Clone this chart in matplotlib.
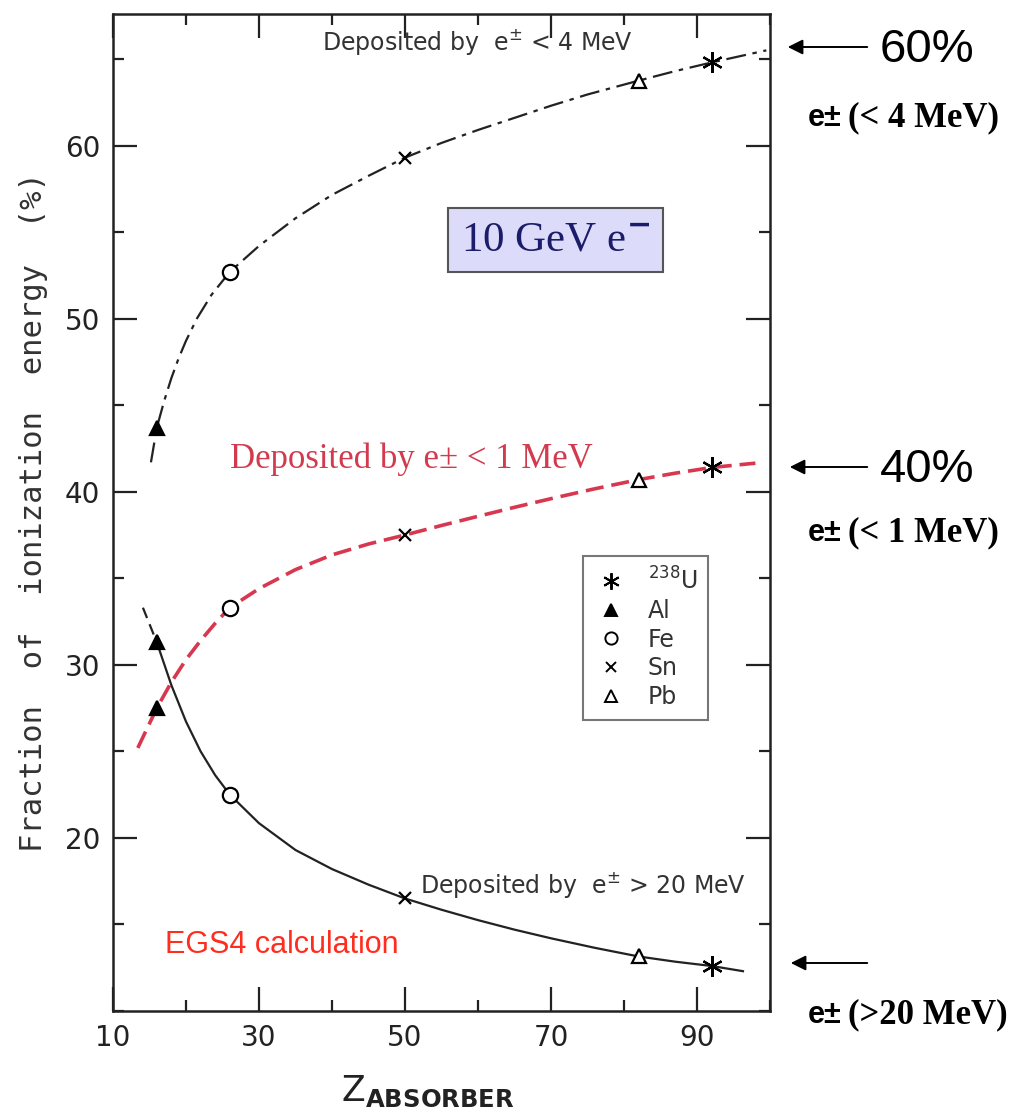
import numpy as np
import matplotlib
matplotlib.use("Agg")
import matplotlib.pyplot as plt
from matplotlib.lines import Line2D
from matplotlib.ticker import MultipleLocator

plt.rcParams['mathtext.fontset'] = 'dejavusans'

# absorber points (Z as drawn in the figure) and element names
z_pts = [16, 26, 50, 82, 92]
elements = ['Al', 'Fe', 'Sn', 'Pb', '$^{238}$U']

# fractions at the marker positions (%)
frac_lt4 = [43.7, 52.7, 59.3, 63.75, 64.8]
frac_lt1 = [27.5, 33.3, 37.5, 40.7, 41.4]
frac_gt20 = [31.3, 22.5, 16.5, 13.15, 12.6]

# curves
z_lt4 = [15.2, 16, 17, 18, 19, 20, 21.5, 23.5, 26, 30, 35, 40, 45, 50, 55, 60,
         65, 70, 75, 82, 87, 92, 99.5]
c_lt4 = [41.7, 43.7, 45.23, 46.57, 47.72, 48.72, 50.01, 51.38, 52.7, 54.2, 55.8,
         57.15, 58.25, 59.3, 60.15, 60.9, 61.6, 62.3, 62.95, 63.75, 64.3, 64.8, 65.5]

z_lt1 = [13.4, 16, 18, 20, 22, 24, 26, 30, 35, 40, 45, 50, 55, 60, 65, 70, 76,
         82, 87, 92, 98]
c_lt1 = [25.2, 27.5, 29.0, 30.3, 31.4, 32.4, 33.3, 34.4, 35.5, 36.35, 36.98, 37.5,
         38.05, 38.58, 39.1, 39.6, 40.17, 40.7, 41.07, 41.4, 41.65]

z_gt20_dash = [14.1, 16]
c_gt20_dash = [33.3, 31.3]
z_gt20 = [16, 18, 20, 22, 24, 26, 30, 35, 40, 45, 50, 55, 60, 65, 70, 76, 82,
          87, 92, 96.3]
c_gt20 = [31.3, 28.82, 26.72, 25.0, 23.62, 22.5, 20.85, 19.3, 18.2, 17.3, 16.5,
          15.85, 15.25, 14.7, 14.2, 13.65, 13.15, 12.85, 12.6, 12.3]

# marker styles per element: Al, Fe, Sn, Pb, U
mk = ['^', 'o', 'x', '^', (6, 2, 0)]
mfc = ['black', 'white', 'black', 'white', 'black']
msz = [10, 11, 9, 10, 15]

W, H = 1011, 1116
fig = plt.figure(figsize=(W / 100, H / 100), dpi=100)
ax = fig.add_axes([113 / W, 1 - 1011 / H, 657 / W, 997 / H])

ax.plot(z_lt4, c_lt4, color='#222222', lw=1.6, dashes=(9, 3, 2, 3))
ax.plot(z_lt1, c_lt1, color='#d8384f', lw=2.6, dashes=(5, 2.2))
ax.plot(z_gt20_dash, c_gt20_dash, color='#222222', lw=1.6, dashes=(5, 3))
ax.plot(z_gt20, c_gt20, color='#222222', lw=1.6)

for ys in (frac_lt4, frac_lt1, frac_gt20):
    for i in range(len(z_pts)):
        ax.plot(z_pts[i], ys[i], marker=mk[i], ms=msz[i], mfc=mfc[i],
                mec='black', mew=1.6, color='black', ls='none')

ax.set_xlim(10, 100)
ax.set_ylim(10, 67.6)
ax.xaxis.set_minor_locator(MultipleLocator(10))
ax.yaxis.set_minor_locator(MultipleLocator(5))
ax.set_xticks([10, 30, 50, 70, 90])
ax.set_yticks([20, 30, 40, 50, 60])
ax.tick_params(which='both', direction='in', top=True, right=True,
               width=1.6, colors='#222222', labelsize=20, pad=9)
ax.tick_params(which='major', length=17)
ax.tick_params(which='minor', length=8)
for s in ax.spines.values():
    s.set_linewidth(1.8)
    s.set_color('#222222')

ax.set_ylabel('Fraction  of  ionization  energy  (%)', fontsize=22,
              color='#333333', labelpad=12, family='DejaVu Sans Mono')
ax.set_xlabel(r'Z$_{\mathbf{ABSORBER}}$', fontsize=25, color='#222222',
              labelpad=16, x=0.48)

# legend
handles = []
order = [4, 0, 1, 2, 3]
for i in order:
    handles.append(Line2D([], [], marker=mk[i], ms=msz[i] * 0.8, mfc=mfc[i],
                          mec='black', mew=1.4, ls='none'))
leg = ax.legend(handles, [elements[i] for i in order], loc='upper left',
                bbox_to_anchor=(0.715, 0.456), fontsize=17, frameon=True,
                fancybox=False, edgecolor='#555555', handlelength=1.5,
                handletextpad=0.8, labelspacing=0.2, borderpad=0.45,
                borderaxespad=0)
leg.get_frame().set_linewidth(1.5)
for t in leg.get_texts():
    t.set_color('#333333')

# curve labels
ax.text(0.318, 0.972, r'Deposited by  e$^{\pm}$ < 4 MeV', transform=ax.transAxes,
        fontsize=17, color='#333333', va='center', ha='left')
ax.text(0.467, 0.126, r'Deposited by  e$^{\pm}$ > 20 MeV', transform=ax.transAxes,
        fontsize=17, color='#333333', va='center', ha='left')
ax.text(0.178, 0.553, 'Deposited by e\u00b1 < 1 MeV', transform=ax.transAxes,
        fontsize=25, color='#d23a4e', va='center', ha='left',
        family='Liberation Serif')
ax.text(0.079, 0.066, 'EGS4 calculation', transform=ax.transAxes,
        fontsize=22, color='#ff2d1e', va='center', ha='left',
        family='Liberation Sans')
ax.text(0.673, 0.773, '10 GeV e$^{\\mathbf{-}}$', transform=ax.transAxes,
        fontsize=31, color='#1c1c6a', va='center', ha='center',
        family='Liberation Serif',
        bbox=dict(boxstyle='square,pad=0.3', fc='#dcdcfa', ec='#555555', lw=1.5))

# right side annotations
def fy(y):
    return 1 - y / H

for y0, x1 in [(47, 785), (467, 787), (963, 788)]:
    fig.add_artist(matplotlib.patches.FancyArrowPatch(
        (870 / W, fy(y0)), (x1 / W, fy(y0)), transform=fig.transFigure,
        arrowstyle='-|>,head_length=9,head_width=4.5', color='black', lw=1.4))

fig.text(880 / W, fy(50), '60%', fontsize=34, family='Liberation Sans',
         va='center', ha='left')
fig.text(880 / W, fy(470), '40%', fontsize=34, family='Liberation Sans',
         va='center', ha='left')

for y0, txt in [(118, '(< 4 MeV)'), (533, '(< 1 MeV)'), (1015, '(>20 MeV)')]:
    fig.text(808 / W, fy(y0), 'e\u00b1', fontsize=22, family='Liberation Sans',
             weight='bold', va='center', ha='left')
    fig.text(848 / W, fy(y0), txt, fontsize=25, family='Liberation Serif',
             weight='bold', va='center', ha='left')

fig.savefig('out.png', dpi=100, facecolor='white')
